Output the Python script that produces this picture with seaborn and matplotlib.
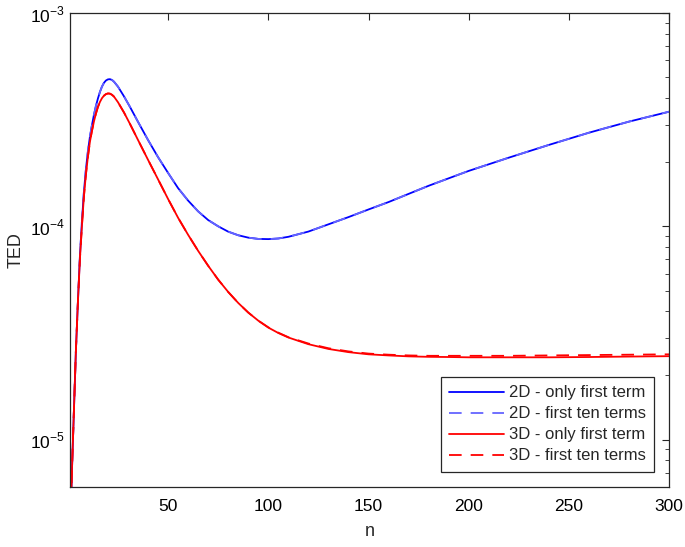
import numpy as np
import pandas as pd
import seaborn as sns
import matplotlib.pyplot as plt
from matplotlib.ticker import LogLocator, NullFormatter, FixedLocator, FuncFormatter

# n values
n = [1, 2, 3, 4, 5, 6, 7, 8, 9, 10, 11, 12, 13, 14, 15, 16, 17, 18, 19, 20,
     21, 22, 23, 25, 28, 31, 35, 40, 45, 50, 55, 60, 65, 70, 75, 80, 85, 90,
     95, 100, 105, 110, 120, 130, 140, 150, 160, 170, 180, 190, 200, 220,
     240, 260, 280, 300]

# 2D - only first term
ted_2d_first = [3.0e-6, 7.0e-6, 1.35e-5, 2.6e-5, 4.4e-5, 7.2e-5, 1.05e-4, 1.45e-4,
                1.85e-4, 2.25e-4, 2.63e-4, 2.98e-4, 3.33e-4, 3.67e-4, 3.98e-4, 4.27e-4,
                4.52e-4, 4.71e-4, 4.83e-4, 4.89e-4, 4.9e-4, 4.86e-4, 4.77e-4, 4.52e-4,
                4.07e-4, 3.63e-4, 3.09e-4, 2.54e-4, 2.11e-4, 1.78e-4, 1.51e-4, 1.32e-4,
                1.175e-4, 1.07e-4, 1.0e-4, 9.44e-5, 9.08e-5, 8.85e-5, 8.73e-5, 8.71e-5,
                8.77e-5, 8.93e-5, 9.45e-5, 1.022e-4, 1.105e-4, 1.2e-4, 1.3e-4, 1.42e-4,
                1.55e-4, 1.68e-4, 1.82e-4, 2.1e-4, 2.41e-4, 2.75e-4, 3.1e-4, 3.45e-4]
# 2D - first ten terms (overlaps the first-term curve)
ted_2d_ten = [3.0e-6, 7.0e-6, 1.35e-5, 2.6e-5, 4.4e-5, 7.2e-5, 1.05e-4, 1.45e-4,
              1.85e-4, 2.25e-4, 2.63e-4, 2.98e-4, 3.33e-4, 3.67e-4, 3.98e-4, 4.27e-4,
              4.52e-4, 4.71e-4, 4.83e-4, 4.89e-4, 4.9e-4, 4.86e-4, 4.77e-4, 4.52e-4,
              4.07e-4, 3.63e-4, 3.09e-4, 2.54e-4, 2.11e-4, 1.78e-4, 1.51e-4, 1.32e-4,
              1.175e-4, 1.07e-4, 1.0e-4, 9.44e-5, 9.08e-5, 8.85e-5, 8.73e-5, 8.71e-5,
              8.77e-5, 8.93e-5, 9.45e-5, 1.022e-4, 1.105e-4, 1.2e-4, 1.3e-4, 1.42e-4,
              1.55e-4, 1.68e-4, 1.82e-4, 2.1e-4, 2.41e-4, 2.75e-4, 3.1e-4, 3.45e-4]
# 3D - only first term
ted_3d_first = [3.0e-6, 7.0e-6, 1.35e-5, 2.6e-5, 4.4e-5, 7.0e-5, 1.0e-4, 1.38e-4,
                1.75e-4, 2.12e-4, 2.49e-4, 2.8e-4, 3.1e-4, 3.38e-4, 3.63e-4, 3.83e-4,
                3.99e-4, 4.1e-4, 4.17e-4, 4.2e-4, 4.19e-4, 4.14e-4, 4.06e-4, 3.82e-4,
                3.42e-4, 3.02e-4, 2.54e-4, 2.05e-4, 1.66e-4, 1.343e-4, 1.096e-4, 9.12e-5,
                7.67e-5, 6.53e-5, 5.62e-5, 4.92e-5, 4.37e-5, 3.94e-5, 3.61e-5, 3.35e-5,
                3.16e-5, 3.01e-5, 2.8e-5, 2.66e-5, 2.57e-5, 2.51e-5, 2.48e-5, 2.455e-5,
                2.443e-5, 2.438e-5, 2.43e-5, 2.43e-5, 2.43e-5, 2.438e-5, 2.45e-5, 2.46e-5]
# 3D - first ten terms (slightly above in the tail)
ted_3d_ten = [3.0e-6, 7.0e-6, 1.35e-5, 2.6e-5, 4.4e-5, 7.0e-5, 1.0e-4, 1.38e-4,
              1.75e-4, 2.12e-4, 2.49e-4, 2.8e-4, 3.1e-4, 3.38e-4, 3.63e-4, 3.83e-4,
              3.99e-4, 4.1e-4, 4.17e-4, 4.2e-4, 4.19e-4, 4.14e-4, 4.06e-4, 3.82e-4,
              3.42e-4, 3.02e-4, 2.54e-4, 2.05e-4, 1.66e-4, 1.343e-4, 1.096e-4, 9.12e-5,
              7.67e-5, 6.53e-5, 5.62e-5, 4.92e-5, 4.37e-5, 3.94e-5, 3.61e-5, 3.36e-5,
              3.17e-5, 3.02e-5, 2.82e-5, 2.68e-5, 2.59e-5, 2.53e-5, 2.5e-5, 2.48e-5,
              2.47e-5, 2.47e-5, 2.47e-5, 2.47e-5, 2.48e-5, 2.49e-5, 2.5e-5, 2.51e-5]

x_ticks = [50, 100, 150, 200, 250, 300]

sns.set_style("white")
plt.rcParams['font.family'] = ['Liberation Sans', 'DejaVu Sans']
plt.rcParams['mathtext.fontset'] = 'custom'
plt.rcParams['mathtext.rm'] = 'Liberation Sans'
plt.rcParams['axes.unicode_minus'] = False

fig = plt.figure(figsize=(6.85, 5.47), dpi=100)
ax = fig.add_axes([0.102, 0.110, 0.875, 0.866])

sns.lineplot(x=n, y=ted_2d_first, ax=ax, color='#0000ff', linewidth=1.3,
             label='2D - only first term')
sns.lineplot(x=n, y=ted_2d_ten, ax=ax, color='#6464ff', linewidth=1.3,
             linestyle=(0, (7, 5)), label='2D - first ten terms')
sns.lineplot(x=n, y=ted_3d_first, ax=ax, color='#ff0000', linewidth=1.3,
             label='3D - only first term')
sns.lineplot(x=n, y=ted_3d_ten, ax=ax, color='#ff0000', linewidth=1.3,
             linestyle=(0, (7, 5)), label='3D - first ten terms')

ax.set_yscale('log')
ax.set_xlim(1, 300)
ax.set_ylim(6e-6, 1e-3)
ax.xaxis.set_major_locator(FixedLocator(x_ticks))
ax.yaxis.set_major_locator(LogLocator(base=10, numticks=10))
ax.yaxis.set_minor_locator(LogLocator(base=10, subs=np.arange(2, 10), numticks=10))
ax.yaxis.set_minor_formatter(NullFormatter())
# MATLAB style exponent labels with a plain hyphen
ax.yaxis.set_major_formatter(FuncFormatter(
    lambda v, p: '$10^{\\mathrm{-%d}}$' % round(-np.log10(v))))

edge = '#262626'
for s in ax.spines.values():
    s.set_color(edge)
    s.set_linewidth(0.9)
ax.tick_params(which='both', direction='in', top=True, right=True,
               colors=edge, labelcolor='black', labelsize=12.5)
ax.tick_params(which='major', length=5, width=0.8)
ax.tick_params(which='minor', length=3, width=0.6)
ax.tick_params(axis='x', pad=9)

ax.set_xlabel('n', fontsize=13, labelpad=6)
ax.set_ylabel('TED', fontsize=13)

leg = ax.legend(loc='lower right', fontsize=12, frameon=True, fancybox=False,
                framealpha=1, edgecolor=edge, borderpad=0.5, labelspacing=0.36,
                handlelength=3.3, handletextpad=0.3, borderaxespad=0.9)
leg.get_frame().set_linewidth(0.9)

fig.savefig('out.png', dpi=100)
